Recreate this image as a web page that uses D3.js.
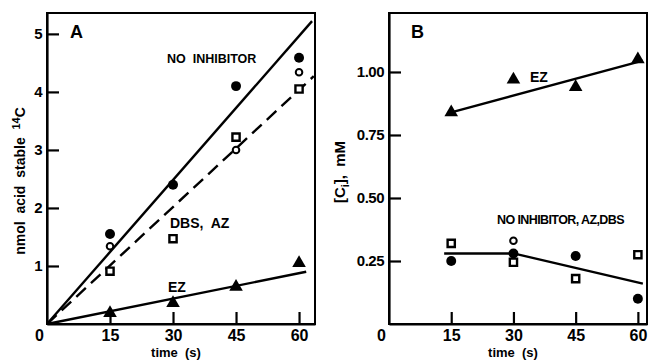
<!DOCTYPE html>
<html lang="en">
<head>
<meta charset="UTF-8">
<title>Acid stable 14C and Ci vs time</title>
<script src="https://d3js.org/d3.v7.min.js"></script>
<style>
    body { margin: 0; background: #fff; }
    text { font-family: "Liberation Sans", Arial, sans-serif; font-weight: bold; fill: #000; white-space: pre; }
</style>
</head>
<body>
<div id="my_dataviz"></div>

<script>
    // ---- data, panel A (nmol acid stable 14C) ----
    const timesA = [15, 30, 45, 60];
    const noInhibA = [1.55, 2.40, 4.10, 4.59];     // filled circles
    const openCircA = [1.34, 2.40, 3.00, 4.34];    // open circles
    const squaresA = [0.91, 1.47, 3.22, 4.05];     // open squares
    const ezA = [0.19, 0.36, 0.64, 1.05];          // triangles
    const fitNoInhibA = [[0, 0], [63.1, 5.22]];
    const fitDbsAzA = [[0, 0], [63.5, 4.27]];
    const fitEzA = [[0, 0], [61.7, 0.90]];
    const yTicksA = [1, 2, 3, 4, 5];

    // ---- data, panel B ([Ci], mM) ----
    const timesB = [15, 30, 45, 60];
    const ezB = [0.84, 0.97, 0.94, 1.05];
    const noInhibB = [0.25, 0.28, 0.27, 0.10];
    const openCircB = [null, 0.33, null, null];
    const squaresB = [0.32, 0.245, 0.18, 0.275];
    const fitEzB = [[15, 0.84], [61.2, 1.045]];
    const fitPooledB = [[13.3, 0.28], [30, 0.28], [61.2, 0.16]];
    const yTicksB = [0.25, 0.50, 0.75, 1.00];

    const xTicks = [0, 15, 30, 45, 60];

    const svg = d3.select("#my_dataviz")
        .append("svg")
        .attr("width", 648)
        .attr("height", 360);

    // draws one panel frame + axes, returns the scales
    function panel(xr, yr, xd, yd, yTicks, yFmt) {
        const x = d3.scaleLinear().domain(xd).range(xr);
        const y = d3.scaleLinear().domain(yd).range(yr);

        svg.append("rect")
            .attr("x", xr[0]).attr("y", yr[1])
            .attr("width", xr[1] - xr[0]).attr("height", yr[0] - yr[1])
            .attr("fill", "none").attr("stroke", "#000").attr("stroke-width", 2);

        const gx = svg.append("g")
            .attr("transform", `translate(0,${yr[0]})`)
            .call(d3.axisBottom(x).tickValues(xTicks).tickSize(-12).tickSizeOuter(0).tickPadding(6));
        gx.selectAll("text").style("font-size", "16px");
        gx.selectAll(".tick").filter(d => d === 0).select("line").remove();
        gx.selectAll(".tick").filter(d => d === 0).select("text").attr("x", -8);

        const gy = svg.append("g")
            .attr("transform", `translate(${xr[0]},0)`)
            .call(d3.axisLeft(y).tickValues(yTicks).tickFormat(yFmt).tickSize(-12).tickSizeOuter(0).tickPadding(5));
        gy.selectAll("text").style("font-size", "15px").style("letter-spacing", "-0.5px");

        svg.selectAll(".domain, .tick line")
            .attr("stroke", "#000").attr("stroke-width", 2.2);
        return {x, y};
    }

    function pts(times, vals) {
        return times.map((t, i) => [t, vals[i]]).filter(d => d[1] !== null);
    }

    function drawLine(s, data, dash) {
        svg.append("path")
            .datum(data)
            .attr("fill", "none")
            .attr("stroke", "#000")
            .attr("stroke-width", 2.4)
            .attr("stroke-dasharray", dash || null)
            .attr("d", d3.line().x(d => s.x(d[0])).y(d => s.y(d[1])));
    }

    function drawMarks(s, data, kind) {
        const g = svg.append("g");
        const sel = g.selectAll("path").data(data).join("path")
            .attr("transform", d => `translate(${s.x(d[0])},${s.y(d[1])})`);
        if (kind === "filled") {
            sel.attr("d", d3.symbol(d3.symbolCircle, 78)).attr("fill", "#000");
        } else if (kind === "open") {
            sel.attr("d", d3.symbol(d3.symbolCircle, 34)).attr("fill", "#fff")
               .attr("stroke", "#000").attr("stroke-width", 2);
        } else if (kind === "square") {
            sel.attr("d", d3.symbol(d3.symbolSquare, 52)).attr("fill", "#fff")
               .attr("stroke", "#000").attr("stroke-width", 2.4);
        } else {
            sel.attr("d", d3.symbol(d3.symbolTriangle, 80)).attr("fill", "#000");
        }
    }

    function label(x, y, txt, size) {
        return svg.append("text").attr("x", x).attr("y", y)
            .style("font-size", size + "px").text(txt);
    }

    // ================= panel A =================
    const A = panel([47, 315], [324, 13], [0, 63.8], [0, 5.36], yTicksA, d3.format("d"));

    drawLine(A, fitNoInhibA);
    drawLine(A, fitDbsAzA, "13,7");
    drawLine(A, fitEzA);

    drawMarks(A, pts(timesA, openCircA), "open");
    drawMarks(A, pts(timesA, noInhibA), "filled");
    drawMarks(A, pts(timesA, squaresA), "square");
    drawMarks(A, pts(timesA, ezA), "triangle");

    label(70, 38, "A", 18);
    label(167, 63, "NO  INHIBITOR", 12.5);
    label(170, 228, "DBS,  AZ", 14);
    label(168, 292, "EZ", 14);
    label(176, 357, "time  (s)", 13).attr("text-anchor", "middle");

    const ylabA = svg.append("text")
        .attr("transform", "translate(25,181) rotate(-90)")
        .attr("text-anchor", "middle")
        .style("font-size", "14px");
    ylabA.append("tspan").text("nmol  acid  stable  ");
    ylabA.append("tspan").attr("dy", -5).style("font-size", "11px").text("14");
    ylabA.append("tspan").attr("dy", 5).text("C");

    // ================= panel B =================
    const B = panel([389, 647], [324, 13], [0, 62.2], [0, 1.234], yTicksB, d3.format(".2f"));

    drawLine(B, fitEzB);
    drawLine(B, fitPooledB);

    drawMarks(B, pts(timesB, ezB), "triangle");
    drawMarks(B, pts(timesB, openCircB), "open");
    drawMarks(B, pts(timesB, noInhibB), "filled");
    drawMarks(B, pts(timesB, squaresB), "square");

    label(411, 38, "B", 18);
    label(530, 82, "EZ", 14);
    label(497, 224, "NO INHIBITOR, AZ,DBS", 12.5).style("letter-spacing", "-0.6px");
    label(513, 357, "time  (s)", 13).attr("text-anchor", "middle");

    const ylabB = svg.append("text")
        .attr("transform", "translate(345,172) rotate(-90)")
        .attr("text-anchor", "middle")
        .style("font-size", "15px");
    ylabB.append("tspan").text("[C");
    ylabB.append("tspan").attr("dy", 4).style("font-size", "11px").text("i");
    ylabB.append("tspan").attr("dy", -4).text("],  mM");
</script>
</body>
</html>
